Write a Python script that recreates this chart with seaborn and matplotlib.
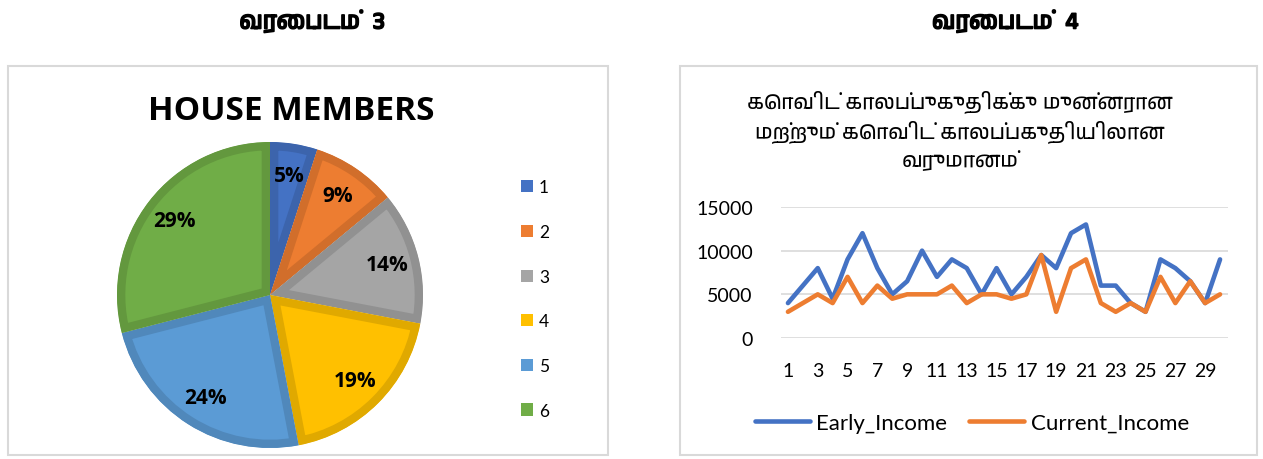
import matplotlib
matplotlib.use("Agg")
import matplotlib.pyplot as plt
import matplotlib.patheffects as pe
import seaborn as sns
import numpy as np
import pandas as pd
from matplotlib import font_manager
from matplotlib.patches import Rectangle
from matplotlib.lines import Line2D

# data
members = ["1", "2", "3", "4", "5", "6"]
member_share = [5, 9, 14, 19, 24, 29]
member_colors = ["#4472C4", "#ED7D31", "#A5A5A5", "#FFC000", "#5B9BD5", "#70AD47"]

days = list(range(1, 31))
early_income = [4000, 6000, 8000, 4500, 9000, 12000, 8000, 5000, 6500, 10000,
                7000, 9000, 8000, 5000, 8000, 5000, 7000, 9500, 8000, 12000,
                13000, 6000, 6000, 4000, 3000, 9000, 8000, 6500, 4000, 9000]
current_income = [3000, 4000, 5000, 4000, 7000, 4000, 6000, 4500, 5000, 5000,
                  5000, 6000, 4000, 5000, 5000, 4500, 5000, 9500, 3000, 8000,
                  9000, 4000, 3000, 4000, 3000, 7000, 4000, 6500, 4000, 5000]

header_left = "வரைபடம்  3"
header_right = "வரைபடம்  4"
pie_title = "HOUSE MEMBERS"
line_title = "கொவிட் காலப்புகுதிக்கு முன்னரான\nமற்றும் கொவிட் காலப்பகுதியிலான\nவருமானம்"

sns.set_style("white")
tamil = [f.name for f in font_manager.fontManager.ttflist if "Tamil" in f.name]
tamil_family = (tamil[:1] if tamil else []) + ["DejaVu Sans"]
plt.rcParams["font.family"] = ["Lato", "DejaVu Sans"]
plt.rcParams["text.color"] = "black"

W, H = 1263, 460
fig = plt.figure(figsize=(W / 100, H / 100), dpi=100)


def fx(px):
    return px / W


def fy(py):
    return 1 - py / H


# panel frames
for x0, x1 in [(8, 608), (680, 1257)]:
    fig.patches.append(Rectangle((fx(x0), fy(456)), fx(x1 - x0), (456 - 67) / H,
                                 transform=fig.transFigure, fill=False,
                                 edgecolor="#D9D9D9", lw=1.5))

for hx, htxt in [(312, header_left), (1005, header_right)]:
    fig.text(fx(hx), fy(22), htxt, ha="center", va="center", fontsize=17,
             fontweight="bold", fontstyle="italic", family=tamil_family,
             path_effects=[pe.withStroke(linewidth=1.2, foreground="black")])

# pie chart
ax1 = fig.add_axes([fx(117), fy(449), fx(306), 306 / H])
wedges, texts, autotexts = ax1.pie(member_share, colors=member_colors, startangle=90,
                                   counterclock=False, autopct="%.0f%%", pctdistance=0.79,
                                   wedgeprops=dict(lw=12))
for w, c in zip(wedges, member_colors):
    rgb = np.array(matplotlib.colors.to_rgb(c)) * 0.88
    w.set_edgecolor(rgb)
    w.set_clip_on(True)
    w.set_clip_path(w)
for t in autotexts:
    t.set_fontsize(15)
    t.set_fontweight("bold")
    t.set_color("black")
    t.set_family(["Open Sans", "DejaVu Sans"])
ax1.set_xlim(-1, 1)
ax1.set_ylim(-1, 1)
fig.text(fx(291), fy(111), pie_title, ha="center", va="center", fontsize=24,
         fontweight="bold", family=["Open Sans", "DejaVu Sans"])
squares = [Rectangle((0, 0), 1, 1, facecolor=c, edgecolor="none") for c in member_colors]
fig.legend(squares, members, loc="center left", bbox_to_anchor=(fx(505), fy(300)),
           frameon=False, fontsize=12.5, handlelength=0.7, handleheight=0.7,
           handletextpad=0.35, labelspacing=1.65)

# line chart
ax2 = fig.add_axes([fx(780.5), fy(339), fx(447), 131 / H])
df = pd.DataFrame({"day": days + days,
                   "income": early_income + current_income,
                   "series": ["Early_Income"] * 30 + ["Current_Income"] * 30})
sns.lineplot(data=df, x="day", y="income", hue="series", ax=ax2,
             palette=["#4472C4", "#ED7D31"], lw=3.3, legend=False)
ax2.set_xlim(0.5, 30.5)
ax2.set_ylim(0, 15000)
ax2.set_yticks([0, 5000, 10000, 15000])
ax2.set_xticks(range(1, 31, 2))
ax2.yaxis.grid(True, color="#D9D9D9", lw=1.2)
ax2.set_axisbelow(True)
for s in ax2.spines.values():
    s.set_visible(False)
ax2.set_xlabel("")
ax2.set_ylabel("")
ax2.tick_params(axis="both", labelsize=14, length=0, colors="#000000")
ax2.tick_params(axis="y", pad=20)
ax2.tick_params(axis="x", pad=17)
fig.text(fx(960), fy(131), line_title, ha="center", va="center", fontsize=15,
         linespacing=1.4, family=tamil_family)
handles = [Line2D([], [], color="#4472C4", lw=3.3), Line2D([], [], color="#ED7D31", lw=3.3)]
fig.legend(handles, ["Early_Income", "Current_Income"], loc="center",
           bbox_to_anchor=(fx(972), fy(424)), ncol=2, frameon=False, fontsize=16,
           handlelength=2.45, handletextpad=0.3, columnspacing=1.0)

fig.savefig("out.png", dpi=100)
